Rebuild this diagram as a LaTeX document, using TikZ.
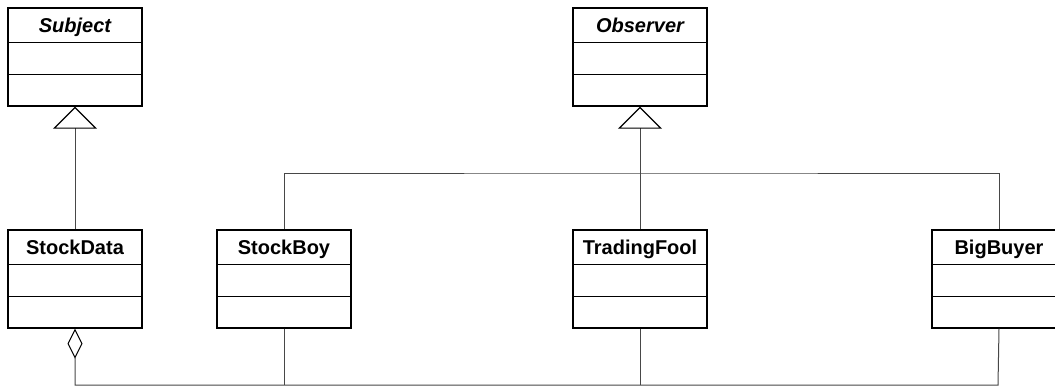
\documentclass[tikz,border=0pt]{standalone}
\usepackage{fontspec}
\setmainfont{Liberation Sans}
\usetikzlibrary{arrows.meta,calc}
\tikzset{
  clsbox/.style={draw=black, line width=1.4pt, minimum width=134pt, minimum height=98pt, inner sep=0pt, fill=white},
  clstitle/.style={font=\fontsize{20}{22}\selectfont\bfseries, inner sep=0pt, anchor=base},
  conn/.style={draw=black!72, line width=1pt},
  inherit/.style={-{Triangle[open, length=22pt, width=44pt, line width=1.2pt, color=black, fill=white]}},
  aggr/.style={{Diamond[open, length=30pt, width=15pt, line width=1pt, color=black, fill=white]}-},
}
\newcommand\umlclass[4]{%
  \node[clsbox] (#1) at (#2,#3+49) {};
  \node[clstitle] (#1-t) at ($(#1.north)+(0,25)$) {#4};
  \draw[line width=1.4pt] ($(#1.north west)+(0,35)$) -- ($(#1.north east)+(0,35)$);
  \draw[line width=1.4pt] ($(#1.north west)+(0,67)$) -- ($(#1.north east)+(0,67)$);
}
\begin{document}
\begin{tikzpicture}[x=1pt,y=-1pt]
\useasboundingbox (0,0) rectangle (1055,389);
\clip (0,0) rectangle (1055,389);
% connectors
\coordinate (top) at (640,173);
\coordinate (bus) at (998,385);
\umlclass{subj}{75}{8}{\itshape Subject}
\umlclass{obs}{640}{8}{\itshape Observer}
\umlclass{sd}{75}{230}{StockData}
\umlclass{sb}{284}{230}{StockBoy}
\umlclass{tf}{640}{230}{TradingFool}
\umlclass{bb}{999}{230}{BigBuyer}
\draw[conn, inherit] (sd.north) -- (subj.south);
\draw[conn, inherit] (tf.north) -- (obs.south);
\draw[conn] (sb.north) |- (top) -| (bb.north);
\draw[conn, aggr] (sd.south) |- (bus) -- (bb.south);
\draw[conn] (sb.south) -- (sb.south |- bus);
\draw[conn] (tf.south) -- (tf.south |- bus);
\end{tikzpicture}
\end{document}
